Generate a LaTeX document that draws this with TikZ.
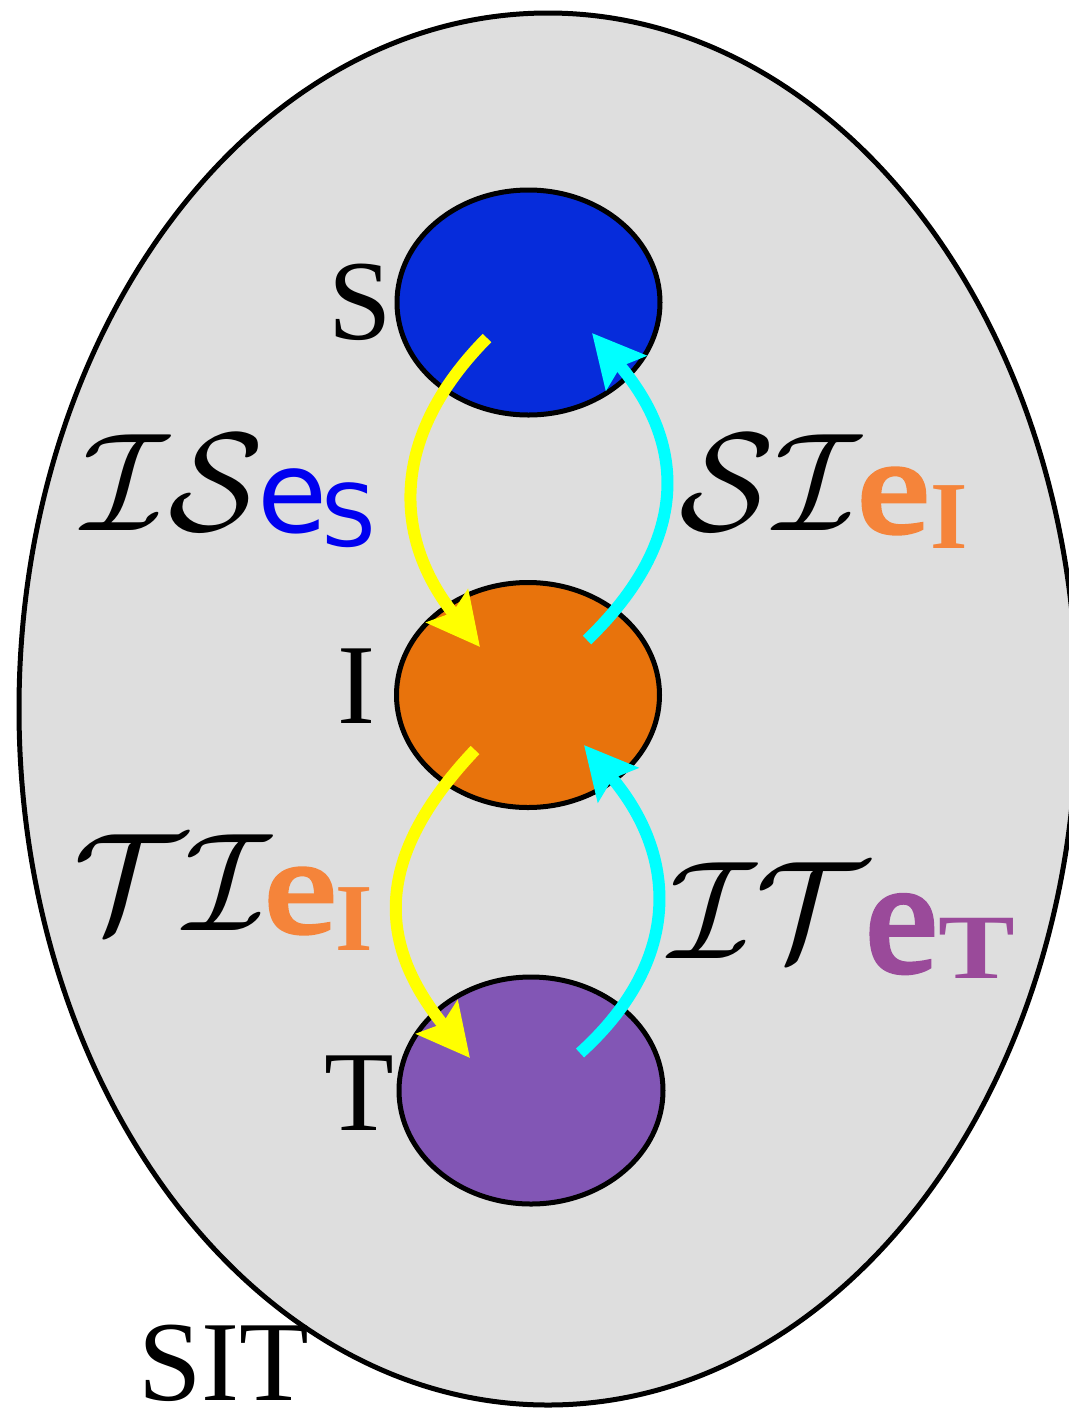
\RequirePackage{fix-cm}
\documentclass[tikz,border=0pt]{standalone}
\usepackage{fontspec}
\setmainfont{Liberation Serif}
\newfontfamily\dejavu{DejaVu Sans}
\newfontfamily\heavyserif[FakeBold=3.5]{Liberation Serif}
\usetikzlibrary{arrows.meta,shapes.geometric}
\definecolor{bggray}{HTML}{DEDEDE}
\definecolor{sblue}{HTML}{062CDB}
\definecolor{iorange}{HTML}{E8730C}
\definecolor{tpurple}{HTML}{8256B5}
\definecolor{lblue}{HTML}{0000F0}
\definecolor{lorange}{HTML}{F5843A}
\definecolor{lpurple}{HTML}{9A4A9A}
\definecolor{ayellow}{HTML}{FFFF00}
\definecolor{acyan}{HTML}{00FFFF}
\begin{document}
\begin{tikzpicture}[x=0.5pt,y=-0.5pt,
  blob/.style={ellipse,draw=black,line width=2.5pt,inner sep=0pt,outer sep=0pt},
  flow/.style={line width=6pt,-{Stealth[length=26pt,width=26pt,inset=4pt]}},
  lbl/.style={inner sep=0pt,outer sep=0pt,anchor=base west},
  setname/.style={inner sep=0pt,outer sep=0pt,anchor=center,font=\fontsize{57}{60}\selectfont},
  cal/.style={font=\fontsize{70}{74}\selectfont},
  ebold/.style={font=\heavyserif\fontsize{80}{84}\selectfont},
  subbold/.style={font=\bfseries\fontsize{48}{50}\selectfont},
]
\clip (0,0) rectangle (1069,1409);
\useasboundingbox (0,0) rectangle (1069,1409);
% outer set
\node[blob,fill=bggray,minimum width=529pt,minimum height=696pt] (sit) at (548,709) {};
% inner sets
\node[blob,fill=sblue,minimum width=131.5pt,minimum height=112.5pt] (S) at (528.5,302.5) {};
\node[blob,fill=iorange,minimum width=131.5pt,minimum height=112.5pt] (I) at (528,695) {};
\node[blob,fill=tpurple,minimum width=132pt,minimum height=113.5pt] (T) at (531,1090.5) {};
% names
\node[setname] (Slbl) at (360,302) {S};
\node[setname] (Ilbl) at (356,686) {I};
\node[setname] (Tlbl) at (359,1093) {T};
\node[setname] (SITlbl) at (224,1363) {SIT};
% arrow end points
\coordinate (y1s) at (487,338);
\coordinate (y1e) at (480,647);
\coordinate (c1s) at (587,640);
\coordinate (c1e) at (592,333);
\coordinate (y2s) at (475,750);
\coordinate (y2e) at (470,1058);
\coordinate (c2s) at (580,1053);
\coordinate (c2e) at (584,745);
\draw[flow,ayellow] (y1s) .. controls (389,437) and (393,538) .. (y1e);
\draw[flow,acyan] (c1s) .. controls (691,540) and (686,443) .. (c1e);
\draw[flow,ayellow] (y2s) .. controls (373,858) and (377,943) .. (y2e);
\draw[flow,acyan] (c2s) .. controls (685,958) and (676,853) .. (c2e);
% edge labels
\node[lbl,cal] (l1a) at (82,530) {$\mathcal{IS}$};
\node[lbl,text=lblue,font=\dejavu\fontsize{57}{60}\selectfont] (l1b) at (257,532) {e};
\node[lbl,text=lblue,font=\dejavu\fontsize{43}{46}\selectfont] (l1c) at (321,546) {S};
\node[lbl,cal] (l2a) at (679,530) {$\mathcal{SI}$};
\node[lbl,text=lorange,ebold,yscale=0.84] (l2b) at (858,532) {e};
\node[lbl,text=lorange,subbold] (l2c) at (930,548) {I};
\node[lbl,cal] (l3a) at (73,930) {$\mathcal{TI}$};
\node[lbl,text=lorange,ebold,yscale=0.84] (l3b) at (265,932) {e};
\node[lbl,text=lorange,subbold] (l3c) at (335,950) {I};
\node[lbl,cal] (l4a) at (669,958) {$\mathcal{IT}$};
\node[lbl,text=lpurple,ebold] (l4b) at (866,971) {e};
\node[lbl,text=lpurple,xscale=1.25,font=\bfseries\fontsize{46}{48}\selectfont] (l4c) at (938,978) {T};
\end{tikzpicture}
\end{document}
